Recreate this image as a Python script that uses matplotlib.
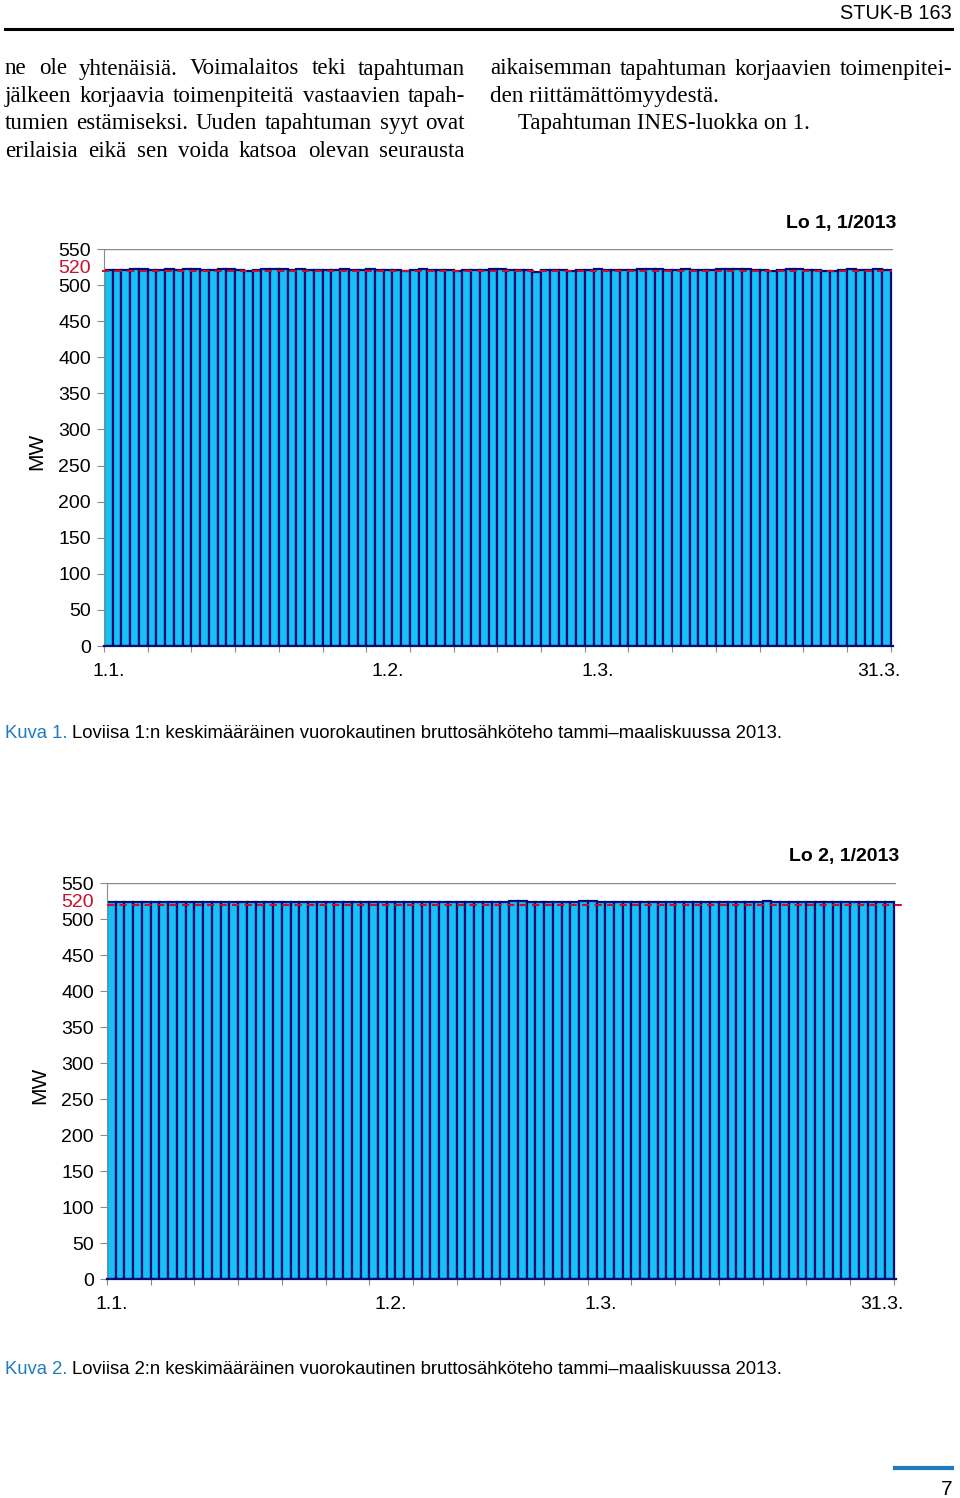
import matplotlib
matplotlib.use("Agg")
import matplotlib.pyplot as plt
import matplotlib.transforms as mtransforms
import numpy as np

# daily mean gross electric power, MW (1.1.-31.3.2013)
lo1_mw = [521, 521, 521, 522, 522, 521, 521, 522, 521, 522, 522, 521, 521, 522, 522,
          521, 520, 521, 522, 522, 522, 521, 522, 521, 521, 521, 521, 522, 521, 521,
          522, 521, 521, 521, 520, 521, 522, 521, 521, 521, 520, 521, 521, 521, 522,
          522, 521, 521, 521, 518, 521, 521, 521, 520, 521, 521, 522, 521, 521, 521,
          521, 522, 522, 522, 521, 521, 522, 521, 521, 521, 522, 522, 522, 522, 521,
          521, 520, 521, 522, 522, 521, 521, 520, 520, 521, 522, 521, 521, 522, 521]
lo2_mw = [524, 524, 524, 524, 524, 524, 523, 524, 524, 524, 524, 524, 524, 524, 524,
          524, 524, 524, 524, 523, 524, 524, 524, 524, 524, 524, 524, 524, 524, 524,
          524, 524, 524, 524, 524, 524, 524, 524, 524, 524, 524, 524, 524, 523, 524,
          524, 525, 525, 524, 524, 523, 523, 524, 524, 525, 525, 524, 524, 524, 524,
          524, 524, 524, 524, 524, 524, 524, 524, 524, 524, 524, 524, 524, 524, 524,
          525, 524, 524, 523, 523, 524, 524, 524, 524, 524, 524, 523, 524, 524, 524]
nominal_mw = 520
yticks = [0, 50, 100, 150, 200, 250, 300, 350, 400, 450, 500, 550]
date_labels = ["1.1.", "1.2.", "1.3.", "31.3."]
date_label_pos = [0, 32, 56, 88.1]
titles = ["Lo 1, 1/2013", "Lo 2, 1/2013"]
captions = ["Loviisa 1:n keskimääräinen vuorokautinen bruttosähköteho tammi–maaliskuussa 2013.",
            "Loviisa 2:n keskimääräinen vuorokautinen bruttosähköteho tammi–maaliskuussa 2013."]

W, H = 960, 1498
fig = plt.figure(figsize=(W / 100, H / 100), dpi=100)
r = fig.canvas.get_renderer()
SANS = ["Liberation Sans", "DejaVu Sans"]
SERIF = ["Liberation Serif", "DejaVu Serif"]
BLUE = "#1f7bbf"
RED = "#c8102e"


def fx(px):
    return px / W


def fy(py):
    return 1 - py / H


def fit_text(s, x0, x1, ybase, family, size=14, **kw):
    # scale the font so the text spans x0..x1 pixels
    t = fig.text(fx(x0), fy(ybase), s, family=family, fontsize=size, va="baseline", **kw)
    w = t.get_window_extent(r).width
    t.set_fontsize(size * (x1 - x0) / w)
    return t


def justify(line, x0, x1, ybase, size):
    words = line.split()
    ts = [fig.text(0, fy(ybase), w, family=SERIF, fontsize=size, va="baseline") for w in words]
    ws = [t.get_window_extent(r).width for t in ts]
    gap = (x1 - x0 - sum(ws)) / (len(words) - 1)
    x = x0
    for t, w in zip(ts, ws):
        t.set_x(fx(x))
        x += w + gap


# header
fit_text("STUK-B 163", 840, 952, 19, SANS, color="black")
fig.add_artist(plt.Line2D([fx(5), fx(952)], [fy(29), fy(29)], color="black", lw=2.2))

# body text
body_size = 16.6
left = ["ne ole yhtenäisiä. Voimalaitos teki tapahtuman",
        "jälkeen korjaavia toimenpiteitä vastaavien tapah-",
        "tumien estämiseksi. Uuden tapahtuman syyt ovat",
        "erilaisia eikä sen voida katsoa olevan seurausta"]
for i, line in enumerate(left):
    justify(line, 5, 465, 74.5 + 27.4 * i, body_size)
justify("aikaisemman tapahtuman korjaavien toimenpitei-", 490, 952, 74.5, body_size)
fig.text(fx(490), fy(74.5 + 27.4), "den riittämättömyydestä.", family=SERIF,
         fontsize=body_size, va="baseline")
fig.text(fx(518), fy(74.5 + 2 * 27.4), "Tapahtuman INES-luokka on 1.", family=SERIF,
         fontsize=body_size, va="baseline")

# charts
panels = [
    dict(data=lo1_mw, left=104, right=893, top=249, bottom=646, dash=(-0.75, 89.7),
         cap_y=738, title_x=896, title_y=228),
    dict(data=lo2_mw, left=107, right=896, top=883, bottom=1279, dash=(-0.5, 90.9),
         cap_y=1374, title_x=899, title_y=861),
]
x = np.arange(90)
for k, p in enumerate(panels):
    ax = fig.add_axes([fx(p["left"]), fy(p["bottom"]), fx(p["right"] - p["left"]),
                       (p["bottom"] - p["top"]) / H])
    ax.bar(x, p["data"], width=1.0, color="#18c0f4", edgecolor="#000a78", lw=1.6, zorder=2)
    ax.hlines(nominal_mw, p["dash"][0], p["dash"][1], colors=RED, linestyles=(0, (3.5, 2.5)),
              lw=1.5, zorder=3, clip_on=False)
    ax.set_xlim(-0.5, 89.76)
    ax.set_ylim(0, 550)
    ax.axhline(550, color="#8a8a8a", lw=1.0, zorder=1)
    for s in ["top", "right"]:
        ax.spines[s].set_visible(False)
    ax.spines["left"].set_color("#8a8a8a")
    ax.spines["bottom"].set_color("#000a78")
    ax.spines["bottom"].set_linewidth(1.6)
    ax.set_yticks(yticks + [nominal_mw])
    ax.set_yticklabels([str(v) for v in yticks] + [str(nominal_mw)], family=SANS, fontsize=14)
    ax.tick_params(axis="y", length=5, color="#8a8a8a", pad=4.5)
    red_lab = ax.get_yticklabels()[-1]
    red_lab.set_color(RED)
    red_lab.set_transform(red_lab.get_transform() +
                          mtransforms.ScaledTranslation(0, 3 / 72, fig.dpi_scale_trans))
    ax.yaxis.get_major_ticks()[-1].tick1line.set_visible(False)
    ax.set_xticks(np.arange(-0.5, 90, 5))
    ax.set_xticklabels([])
    ax.tick_params(axis="x", length=4.5, color="#8a8a8a", direction="out")
    for lab, pos in zip(date_labels, date_label_pos):
        ax.text(pos, -0.042, lab, transform=ax.get_xaxis_transform(), ha="center", va="top",
                family=SANS, fontsize=14)
    fig.text(fx(p["left"] - 67), fy((p["top"] + p["bottom"]) / 2 + 4), "MW", rotation=90,
             family=SANS, fontsize=15, ha="center", va="center")
    fig.text(fx(p["title_x"]), fy(p["title_y"]), titles[k], family=SANS, fontsize=14,
             weight="bold", ha="right", va="baseline")
    # caption, blue "Kuva n." then black text, fitted to span 5..793 px
    kuva = fig.text(fx(5), fy(p["cap_y"]), "Kuva %d." % (k + 1), family=SANS,
                    fontsize=14, va="baseline", color=BLUE)
    kw_ = kuva.get_window_extent(r).width
    cap = fig.text(fx(5 + kw_ + 5), fy(p["cap_y"]), captions[k], family=SANS,
                   fontsize=14, va="baseline", color="black")
    total = kw_ + 5 + cap.get_window_extent(r).width
    sc = (793 - 5) / total
    kuva.set_fontsize(14 * sc)
    cap.set_fontsize(14 * sc)
    cap.set_x(fx(5 + kuva.get_window_extent(r).width + 5 * sc))

# footer
fig.add_artist(plt.Line2D([fx(895), fx(952)], [fy(1468), fy(1468)], color=BLUE, lw=3))
fig.text(fx(952), fy(1495), "7", family=SANS, fontsize=15, ha="right", va="baseline")

fig.savefig("out.png", dpi=100)
